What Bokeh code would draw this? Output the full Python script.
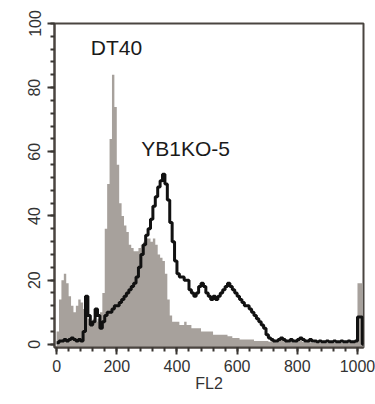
import math
from bokeh.plotting import figure
from bokeh.models import FixedTicker, Label, Range1d
from bokeh.embed import file_html
from bokeh.resources import INLINE

# FL2 channel bins (width 8)
bin_width = 8
n_bins = 128

dt40_counts = [
    4, 14, 20, 22, 19, 15, 12, 10, 12, 14, 13, 11, 9, 8, 7, 8,
    7, 8, 10, 16, 36, 50, 64, 84, 74, 56, 44, 40, 37, 35, 31, 30,
    29, 29, 30, 31, 32, 33, 33, 32, 33, 31, 28, 27, 26, 22, 14, 9,
    7, 7, 7, 6, 6, 7, 6, 6, 5, 5, 5, 5, 4, 4, 4, 4,
    4, 3, 3, 3, 3, 3, 3, 2.5, 2.5, 2, 2, 2, 1.5, 1.5, 1.5, 1.5,
    1.5, 1.5, 1, 1, 1, 1, 1, 1, 0.8, 1.2, 0.8, 0.6, 1.5, 2, 1.5, 0.8,
    0.6, 0.8, 0.6, 1, 1.5, 1.2, 0.8, 0.6, 0.8, 0.6, 0.5, 0.8, 0.6, 0.5, 0.6, 0.8,
    0.5, 0.6, 0.5, 0.4, 0.5, 0.6, 0.5, 0.4, 0.5, 0.6, 0.5, 0.6, 0.8, 19, 19, 0,
]

yb1ko_counts = [
    0.5, 1, 1, 1.5, 1, 1.5, 2, 1.5, 1, 1.5, 1, 4, 15, 9, 6, 7,
    11, 9, 5, 7, 9, 10, 10, 11, 12, 12, 13, 14, 15, 16, 17, 18,
    19, 21, 24, 28, 31, 34, 36, 39, 43, 46, 49, 51, 53, 50, 45, 38,
    32, 26, 22, 21, 21, 20, 20, 17, 16, 15, 16, 18, 19, 18, 16, 15,
    14, 15, 14, 15, 16, 17, 18, 19, 18, 17, 16, 15, 14, 13, 12, 12,
    11, 10, 9, 8, 7, 6, 5, 3, 2, 1.5, 1, 1, 1.5, 2, 1.5, 1,
    1, 1.5, 1, 1, 1.5, 2, 1.5, 1, 1, 1.5, 1, 1, 0.8, 1, 0.8, 0.8,
    1, 0.8, 0.8, 1, 0.8, 0.8, 1, 0.8, 0.8, 1, 0.8, 0.8, 1, 8.5, 8.5, 0,
]

x_ticks = [0, 200, 400, 600, 800, 1000]
y_ticks = [0, 20, 40, 60, 80, 100]
x_minor = [t * 40 for t in range(0, 26)]
y_minor = [t * 4 for t in range(0, 26)]

edges = [i * bin_width for i in range(n_bins + 1)]

frame_col = "#4a4540"
tick_col = "#3a3633"

p = figure(width=375, height=404, output_backend="svg", toolbar_location=None,
           x_range=Range1d(-7, 1020), y_range=Range1d(-1, 100),
           min_border_left=54, min_border_right=12, min_border_top=23, min_border_bottom=57)
p.background_fill_color = "white"
p.border_fill_color = "white"
p.outline_line_color = frame_col
p.outline_line_width = 2
p.xgrid.visible = False
p.ygrid.visible = False

dt40_y = dt40_counts + [dt40_counts[-1]]
p.varea_step(x=edges, y1=[-1] * len(edges), y2=dt40_y, step_mode="after",
             fill_color="#a7a19c")

p.step(x=edges, y=yb1ko_counts + [yb1ko_counts[-1]],
       mode="after", line_color="#111111", line_width=3)

for ax in (p.xaxis[0], p.yaxis[0]):
    ax.axis_line_color = frame_col
    ax.axis_line_width = 2
    ax.major_tick_line_color = tick_col
    ax.minor_tick_line_color = tick_col
    ax.major_tick_line_width = 2
    ax.minor_tick_line_width = 2
    ax.major_tick_out = 7
    ax.major_tick_in = 0
    ax.minor_tick_out = 4
    ax.minor_tick_in = 0
    ax.major_label_text_font = "Liberation Sans"
    ax.major_label_text_color = "#333333"
    ax.major_label_text_font_size = "16px"

p.xaxis.ticker = FixedTicker(ticks=x_ticks, minor_ticks=x_minor)
p.yaxis.ticker = FixedTicker(ticks=y_ticks, minor_ticks=y_minor)
p.yaxis.major_label_orientation = "vertical"
p.xaxis.major_label_standoff = 5
p.yaxis.major_label_standoff = 7

p.xaxis.axis_label = "FL2"
p.xaxis.axis_label_text_font = "Liberation Sans"
p.xaxis.axis_label_text_font_style = "normal"
p.xaxis.axis_label_text_font_size = "16px"
p.xaxis.axis_label_text_color = "#333333"
p.xaxis.axis_label_standoff = 0

p.add_layout(Label(x=-133, y=38.6, text="Counts", angle=math.pi / 2,
                   text_font="Liberation Sans", text_font_size="14px",
                   text_color="#333333", text_align="center", text_baseline="middle"))

p.add_layout(Label(x=199, y=92.5, text="DT40", text_font="Liberation Sans",
                   text_font_size="21px", text_color="#1a1a1a",
                   text_align="center", text_baseline="middle"))
p.add_layout(Label(x=429, y=61, text="YB1KO-5", text_font="Liberation Sans",
                   text_font_size="21px", text_color="#1a1a1a",
                   text_align="center", text_baseline="middle"))

open("out.html", "w").write(file_html(p, INLINE))
